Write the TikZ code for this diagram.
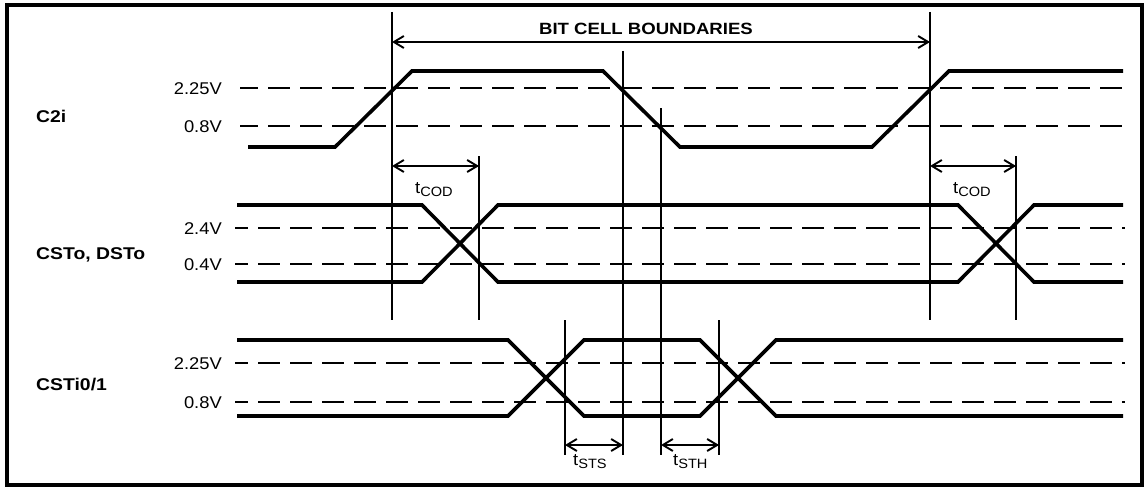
\documentclass[tikz,border=0pt]{standalone}
\usepackage{fontspec}
\setmainfont{Liberation Sans}[FakeStretch=1.08]
\newfontfamily\boldfam{Liberation Sans}[FakeStretch=1.14]
\usetikzlibrary{arrows.meta}
\tikzset{
  frameline/.style={line width=4pt},
  sig/.style={line width=3.6pt},
  thinline/.style={line width=1.9pt},
  lvl/.style={line width=1.9pt, dash pattern=on 22pt off 10pt, dash phase=9pt},
  dim/.style={line width=1.9pt, {Straight Barb[length=10pt,width=12pt]}-{Straight Barb[length=10pt,width=12pt]}},
  vlab/.style={anchor=base east, inner sep=0pt, font=\fontsize{17}{20}\selectfont},
  slab/.style={anchor=base west, inner sep=0pt, font=\boldfam\bfseries\fontsize{17}{20}\selectfont},
  ttl/.style={anchor=base, inner sep=0pt, font=\boldfam\bfseries\fontsize{16.3}{19}\selectfont},
  tlab/.style={anchor=base west, inner sep=0pt, font=\fontsize{17}{20}\selectfont},
}
\newcommand{\tsub}[1]{t\raisebox{-3pt}{\fontsize{13.5}{14}\selectfont #1}}
\begin{document}
\begin{tikzpicture}[x=1pt,y=-1pt]
\useasboundingbox (0,0) rectangle (1147,487);
\draw[frameline] (7,5) rectangle (1142,485);

% ---------- reference levels (dashed)
\draw[lvl, dash phase=4pt] (240,88) -- (1125,88);
\draw[lvl, dash phase=4pt] (240,126) -- (1125,126);
\draw[lvl] (235,228) -- (1125,228);
\draw[lvl] (235,264) -- (1125,264);
\draw[lvl] (235,363) -- (1125,363);
\draw[lvl] (235,402) -- (1125,402);

% ---------- level labels
\node[vlab] (l1) at (222,94.5) {2.25V};
\node[vlab] (l2) at (222,132.5) {0.8V};
\node[vlab] (l3) at (222,234) {2.4V};
\node[vlab] (l4) at (222,270.5) {0.4V};
\node[vlab] (l5) at (222,369.5) {2.25V};
\node[vlab] (l6) at (222,408.5) {0.8V};

% ---------- signal names
\node[slab] (n1) at (36,122) {C2i};
\node[slab] (n2) at (36,259) {CSTo, DSTo};
\node[slab] (n3) at (36,390) {CSTi0/1};

% ---------- vertical reference lines
\coordinate (v1t) at (392,12);   \coordinate (v1b) at (392,320);
\coordinate (v2t) at (930,12);   \coordinate (v2b) at (930,320);
\coordinate (v3t) at (479,156);  \coordinate (v3b) at (479,320);
\coordinate (v4t) at (1016,156); \coordinate (v4b) at (1016,320);
\coordinate (v5t) at (623,51);   \coordinate (v5b) at (623,455);
\coordinate (v6t) at (661,108);  \coordinate (v6b) at (661,455);
\coordinate (v7t) at (565,320);  \coordinate (v7b) at (565,455);
\coordinate (v8t) at (719,320);  \coordinate (v8b) at (719,455);
\foreach \v in {1,...,8} {\draw[thinline] (v\v t) -- (v\v b);}

% ---------- dimension arrows
\coordinate (bcL) at (392,42);  \coordinate (bcR) at (930,42);
\coordinate (c1L) at (392,166); \coordinate (c1R) at (479,166);
\coordinate (c2L) at (930,166); \coordinate (c2R) at (1016,166);
\coordinate (sL) at (565,445);  \coordinate (sR) at (623,445);
\coordinate (hL) at (661,445);  \coordinate (hR) at (719,445);
\draw[dim] (bcL) -- (bcR);
\draw[dim] (c1L) -- (c1R);
\draw[dim] (c2L) -- (c2R);
\draw[dim] (sL) -- (sR);
\draw[dim] (hL) -- (hR);

\node[ttl] (title) at (646,35) {BIT CELL BOUNDARIES};
\node[tlab] (tc1) at (415,193) {\tsub{COD}};
\node[tlab] (tc2) at (953,193) {\tsub{COD}};
\node[tlab] (ts) at (573,465) {\tsub{STS}};
\node[tlab] (th) at (673,465) {\tsub{STH}};

% ---------- signals
\draw[sig] (248,147) -- (335,147) -- (412,71) -- (603,71) -- (680,147) -- (872,147) -- (949,71) -- (1123,71);

\draw[sig] (237,205) -- (422,205) -- (498,282) -- (958,282) -- (1034,205) -- (1123,205);
\draw[sig] (237,282) -- (422,282) -- (498,205) -- (958,205) -- (1034,282) -- (1123,282);

\draw[sig] (237,340) -- (508,340) -- (584,416) -- (700,416) -- (776,340) -- (1123,340);
\draw[sig] (237,416) -- (508,416) -- (584,340) -- (700,340) -- (776,416) -- (1123,416);
\end{tikzpicture}
\end{document}
